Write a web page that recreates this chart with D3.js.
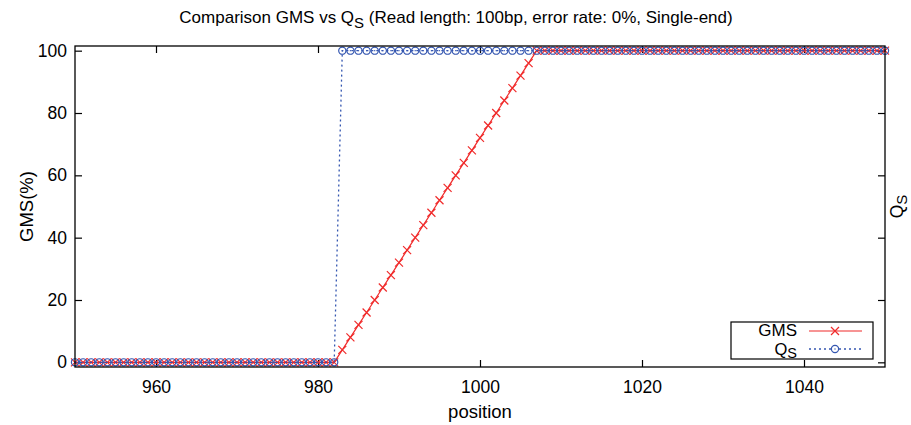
<!DOCTYPE html>
<html>
<head>
<meta charset="utf-8">
<script src="https://cdn.jsdelivr.net/npm/d3@7"></script>
<style>
  body { margin: 0; background: #fff; }
  svg text { font-family: "Liberation Sans", Arial, Helvetica, sans-serif; fill: #000; }
</style>
</head>
<body>
<svg id="chart" width="911" height="425"></svg>
<script>
// positions along the read
var positions = [
  950, 951, 952, 953, 954, 955, 956, 957, 958, 959,
  960, 961, 962, 963, 964, 965, 966, 967, 968, 969,
  970, 971, 972, 973, 974, 975, 976, 977, 978, 979,
  980, 981, 982, 983, 984, 985, 986, 987, 988, 989,
  990, 991, 992, 993, 994, 995, 996, 997, 998, 999,
  1000, 1001, 1002, 1003, 1004, 1005, 1006, 1007, 1008, 1009,
  1010, 1011, 1012, 1013, 1014, 1015, 1016, 1017, 1018, 1019,
  1020, 1021, 1022, 1023, 1024, 1025, 1026, 1027, 1028, 1029,
  1030, 1031, 1032, 1033, 1034, 1035, 1036, 1037, 1038, 1039,
  1040, 1041, 1042, 1043, 1044, 1045, 1046, 1047, 1048, 1049,
  1050
];

var gmsValues = [
  0, 0, 0, 0, 0, 0, 0, 0, 0, 0,
  0, 0, 0, 0, 0, 0, 0, 0, 0, 0,
  0, 0, 0, 0, 0, 0, 0, 0, 0, 0,
  0, 0, 0, 4, 8, 12, 16, 20, 24, 28,
  32, 36, 40, 44, 48, 52, 56, 60, 64, 68,
  72, 76, 80, 84, 88, 92, 96, 100, 100, 100,
  100, 100, 100, 100, 100, 100, 100, 100, 100, 100,
  100, 100, 100, 100, 100, 100, 100, 100, 100, 100,
  100, 100, 100, 100, 100, 100, 100, 100, 100, 100,
  100, 100, 100, 100, 100, 100, 100, 100, 100, 100,
  100
];

var qsValues = [
  0, 0, 0, 0, 0, 0, 0, 0, 0, 0,
  0, 0, 0, 0, 0, 0, 0, 0, 0, 0,
  0, 0, 0, 0, 0, 0, 0, 0, 0, 0,
  0, 0, 0, 100, 100, 100, 100, 100, 100, 100,
  100, 100, 100, 100, 100, 100, 100, 100, 100, 100,
  100, 100, 100, 100, 100, 100, 100, 100, 100, 100,
  100, 100, 100, 100, 100, 100, 100, 100, 100, 100,
  100, 100, 100, 100, 100, 100, 100, 100, 100, 100,
  100, 100, 100, 100, 100, 100, 100, 100, 100, 100,
  100, 100, 100, 100, 100, 100, 100, 100, 100, 100,
  100
];

var xTicks = [960, 980, 1000, 1020, 1040],
    yTicks = [0, 20, 40, 60, 80, 100];

var red = '#f02a2a',
    blue = '#3456b0';

var svg = d3.select('#chart'),
    plotL = 75, plotR = 885, plotT = 46, plotB = 367,
    x = d3.scaleLinear().domain([950, 1050]).range([plotL, plotR]),
    y = d3.scaleLinear().domain([-1.5, 101.5]).range([plotB, plotT]),
    tick = 7;

var gms = positions.map(function(p, i) { return {x: p, y: gmsValues[i]}; }),
    qs = positions.map(function(p, i) { return {x: p, y: qsValues[i]}; });

// axes: labels only on bottom/left, ticks mirrored inward on all sides
svg.append('g')
  .attr('transform', 'translate(0,' + plotB + ')')
  .call(d3.axisBottom(x).tickValues(xTicks).tickSize(-tick).tickPadding(14).tickFormat(d3.format('d')))
  .call(function(g) {
    g.select('.domain').remove();
    g.selectAll('text').style('font-size', '17.5px').attr('dy', '0.71em');
  });
svg.append('g')
  .attr('transform', 'translate(0,' + plotT + ')')
  .call(d3.axisTop(x).tickValues(xTicks).tickSize(-tick).tickFormat(''))
  .call(function(g) { g.select('.domain').remove(); });
svg.append('g')
  .attr('transform', 'translate(' + plotL + ',0)')
  .call(d3.axisLeft(y).tickValues(yTicks).tickSize(-tick).tickPadding(8))
  .call(function(g) {
    g.select('.domain').remove();
    g.selectAll('text').style('font-size', '17.5px');
  });
svg.append('g')
  .attr('transform', 'translate(' + plotR + ',0)')
  .call(d3.axisRight(y).tickValues(yTicks).tickSize(-tick).tickFormat(''))
  .call(function(g) { g.select('.domain').remove(); });

svg.selectAll('.tick line').attr('stroke', '#000').attr('stroke-width', 1.2);

// series
var line = d3.line()
  .x(function(d) { return x(d.x); })
  .y(function(d) { return y(d.y); });

svg.append('path').datum(gms)
  .attr('fill', 'none')
  .attr('stroke', red)
  .attr('stroke-width', 1.2)
  .attr('d', line);

function crossPath(cx, cy, s) {
  return 'M' + (cx - s) + ',' + (cy - s) + 'L' + (cx + s) + ',' + (cy + s) +
         'M' + (cx - s) + ',' + (cy + s) + 'L' + (cx + s) + ',' + (cy - s);
}

svg.append('g').selectAll('.gms').data(gms)
  .enter().append('path')
  .attr('class', 'gms')
  .attr('fill', 'none')
  .attr('stroke', red)
  .attr('stroke-width', 1.2)
  .attr('d', function(d) { return crossPath(x(d.x), y(d.y), 4); });

svg.append('path').datum(qs)
  .attr('fill', 'none')
  .attr('stroke', blue)
  .attr('stroke-width', 1.3)
  .attr('stroke-dasharray', '2,3')
  .attr('d', line);

var qsPts = svg.append('g').selectAll('.qs').data(qs)
  .enter().append('g')
  .attr('class', 'qs');
qsPts.append('circle')
  .attr('cx', function(d) { return x(d.x); })
  .attr('cy', function(d) { return y(d.y); })
  .attr('r', 3.6)
  .attr('fill', 'none')
  .attr('stroke', blue)
  .attr('stroke-width', 1.2);
qsPts.append('circle')
  .attr('cx', function(d) { return x(d.x); })
  .attr('cy', function(d) { return y(d.y); })
  .attr('r', 0.7)
  .attr('fill', blue);

// border
svg.append('rect')
  .attr('x', plotL).attr('y', plotT)
  .attr('width', plotR - plotL).attr('height', plotB - plotT)
  .attr('fill', 'none')
  .attr('stroke', '#000')
  .attr('stroke-width', 1.3);

// title and axis labels
var title = svg.append('text')
  .attr('x', 456).attr('y', 23)
  .attr('text-anchor', 'middle')
  .style('font-size', '17px');
title.append('tspan').text('Comparison GMS vs Q');
title.append('tspan').attr('dy', 5).style('font-size', '15px').text('S');
title.append('tspan').attr('dy', -5).text(' (Read length: 100bp, error rate: 0%, Single-end)');

svg.append('text')
  .attr('transform', 'translate(33,' + ((plotT + plotB) / 2) + ') rotate(-90)')
  .attr('text-anchor', 'middle')
  .style('font-size', '18.5px')
  .text('GMS(%)');

svg.append('text')
  .attr('x', (plotL + plotR) / 2).attr('y', 418)
  .attr('text-anchor', 'middle')
  .style('font-size', '18.5px')
  .text('position');

var y2 = svg.append('text')
  .attr('transform', 'translate(903,' + ((plotT + plotB) / 2) + ') rotate(-90)')
  .attr('text-anchor', 'middle')
  .style('font-size', '17.5px');
y2.append('tspan').text('Q');
y2.append('tspan').attr('dy', 4).style('font-size', '15px').text('S');

// legend
var legend = svg.append('g');
legend.append('rect')
  .attr('x', 731).attr('y', 322).attr('width', 142).attr('height', 37)
  .attr('fill', '#fff')
  .attr('stroke', '#000')
  .attr('stroke-width', 1.2);

legend.append('text')
  .attr('x', 797).attr('y', 336)
  .attr('text-anchor', 'end')
  .style('font-size', '17px')
  .text('GMS');
legend.append('line')
  .attr('x1', 809).attr('x2', 862).attr('y1', 331).attr('y2', 331)
  .attr('stroke', red).attr('stroke-width', 1.2);
legend.append('path')
  .attr('fill', 'none').attr('stroke', red).attr('stroke-width', 1.2)
  .attr('d', crossPath(835, 331, 4));

var qsLabel = legend.append('text')
  .attr('x', 797).attr('y', 355)
  .attr('text-anchor', 'end')
  .style('font-size', '16.5px');
qsLabel.append('tspan').text('Q');
qsLabel.append('tspan').attr('dy', 3).style('font-size', '14.5px').text('S');
legend.append('line')
  .attr('x1', 809).attr('x2', 862).attr('y1', 349).attr('y2', 349)
  .attr('stroke', blue).attr('stroke-width', 1.3).attr('stroke-dasharray', '2,3');
legend.append('circle')
  .attr('cx', 835).attr('cy', 349).attr('r', 3.6)
  .attr('fill', '#fff').attr('stroke', blue).attr('stroke-width', 1.2);
legend.append('circle')
  .attr('cx', 835).attr('cy', 349).attr('r', 0.7)
  .attr('fill', blue);
</script>
</body>
</html>
